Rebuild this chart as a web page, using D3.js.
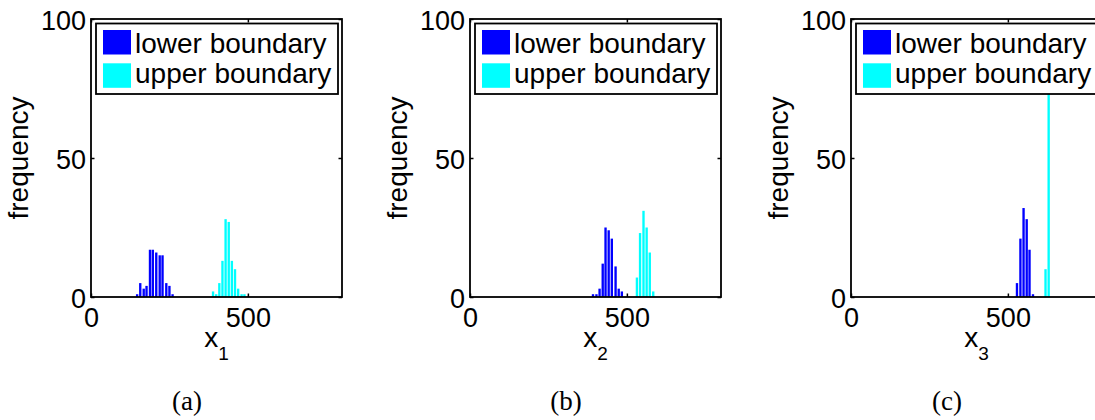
<!DOCTYPE html>
<html>
<head>
<meta charset="utf-8">
<script src="https://cdn.jsdelivr.net/npm/d3@7"></script>
<style>
  body { margin: 0; background: #fff; }
  svg { display: block; }
  text { fill: #000; }
</style>
</head>
<body>
<svg id="chart" width="1095" height="420"></svg>
<script>
// Histogram bins (bin centre, count) for each variable's lower and upper boundary
const lowerCentersA = [147, 157, 168, 177, 188, 197, 208, 219, 228, 240, 250, 260];
const lowerCountsA  = [1, 5, 3, 4, 17, 17, 16, 15, 15, 5, 4, 1];
const upperCentersA = [389, 399, 409, 419, 429, 439, 449, 459, 469, 480, 489];
const upperCountsA  = [2, 1, 5, 13, 28, 27, 13, 10, 3, 1, 1];

const lowerCentersB = [392, 403, 413, 423, 432, 442, 452, 464, 474, 484];
const lowerCountsB  = [1, 1, 3, 12, 25, 24, 21, 11, 3, 2];
const upperCentersB = [532, 542, 553, 563, 573, 584];
const upperCountsB  = [7, 23, 31, 25, 16, 2];

const lowerCentersC = [529, 540, 550, 560, 569, 580];
const lowerCountsC  = [5, 21, 32, 28, 17, 1];
const upperCentersC = [620, 630];
const upperCountsC  = [10, 90];

const xTicks = [0, 500];
const yTicks = [0, 50, 100];
const xDomain = [0, 800];
const yDomain = [0, 100];
const axisSubscripts = ["1", "2", "3"];
const panelCaptions = ["(a)", "(b)", "(c)"];
const legendLabels = ["lower boundary", "upper boundary"];
const seriesColors = ["#0000ff", "#00ffff"];

const panels = [
  [[lowerCentersA, lowerCountsA], [upperCentersA, upperCountsA]],
  [[lowerCentersB, lowerCountsB], [upperCentersB, upperCountsB]],
  [[lowerCentersC, lowerCountsC], [upperCentersC, upperCountsC]]
];

// Layout
const SANS = "\"Liberation Sans\", Arial, sans-serif";
const SERIF = "\"Liberation Serif\", \"Times New Roman\", serif";
const svg = d3.select("#chart");
const plotTop = 19, plotBottom = 297, plotW = 251;
const panelLefts = [91, 470, 851];
const lineW = 1.8;
const tickLen = 3.5;

function styleAxis(sel) {
  sel.select(".domain").remove();
  sel.selectAll(".tick line").attr("stroke", "#000").attr("stroke-width", 1.5);
  sel.attr("font-family", SANS).attr("font-size", 27);
  sel.selectAll("text").attr("fill", "#000");
}

panels.forEach((series, i) => {
  const L = panelLefts[i];
  const x = d3.scaleLinear().domain(xDomain).range([L, L + plotW]);
  const y = d3.scaleLinear().domain(yDomain).range([plotBottom, plotTop]);
  const g = svg.append("g").attr("font-family", SANS);
  const barW = x(7.5) - x(0);

  // bars
  series.forEach(([centers, counts], k) => {
    g.append("g").selectAll("rect")
      .data(d3.zip(centers, counts))
      .join("rect")
      .attr("x", d => x(d[0]) - barW / 2)
      .attr("y", d => y(d[1]))
      .attr("width", barW)
      .attr("height", d => y(0) - y(d[1]))
      .attr("fill", seriesColors[k]);
  });

  // axes with inward ticks on all four sides
  g.append("g").attr("transform", `translate(0,${plotBottom})`)
    .call(d3.axisBottom(x).tickValues(xTicks).tickSize(-tickLen).tickPadding(11))
    .call(styleAxis);
  g.append("g").attr("transform", `translate(0,${plotTop})`)
    .call(d3.axisTop(x).tickValues(xTicks).tickSize(-tickLen).tickFormat(""))
    .call(styleAxis);
  g.append("g").attr("transform", `translate(${L},0)`)
    .call(d3.axisLeft(y).tickValues(yTicks).tickSize(-tickLen).tickPadding(5))
    .call(styleAxis)
    .selectAll("text").attr("dy", "0.39em");
  g.append("g").attr("transform", `translate(${L + plotW},0)`)
    .call(d3.axisRight(y).tickValues(yTicks).tickSize(-tickLen).tickFormat(""))
    .call(styleAxis);

  // axes box
  g.append("rect")
    .attr("x", L).attr("y", plotTop)
    .attr("width", plotW).attr("height", plotBottom - plotTop)
    .attr("fill", "none").attr("stroke", "#000").attr("stroke-width", lineW);

  // axis titles
  g.append("text")
    .attr("transform", `translate(${L - 63.5},${(plotTop + plotBottom) / 2}) rotate(-90)`)
    .attr("text-anchor", "middle").attr("font-size", 28)
    .text("frequency");
  const xt = g.append("text")
    .attr("x", L + plotW / 2).attr("y", plotBottom + 50)
    .attr("text-anchor", "middle").attr("font-size", 28);
  xt.append("tspan").text("x");
  xt.append("tspan").attr("dy", 13).attr("font-size", 19).text(axisSubscripts[i]);

  // legend
  const lg = g.append("g").attr("transform", `translate(${L + 5},23.5)`);
  lg.append("rect").attr("width", 242).attr("height", 70.5)
    .attr("fill", "#fff").attr("stroke", "#000").attr("stroke-width", lineW);
  legendLabels.forEach((lab, k) => {
    lg.append("rect").attr("x", 7).attr("y", 6.5 + k * 33.3)
      .attr("width", 28).attr("height", 24.5).attr("fill", seriesColors[k]);
    lg.append("text").attr("x", 39).attr("y", 29.5 + k * 30)
      .attr("font-size", 28).text(lab);
  });

  // sub-figure caption
  svg.append("text")
    .attr("x", L + 96).attr("y", 410)
    .attr("text-anchor", "middle")
    .attr("font-family", SERIF)
    .attr("font-size", 27)
    .text(panelCaptions[i]);
});
</script>
</body>
</html>
